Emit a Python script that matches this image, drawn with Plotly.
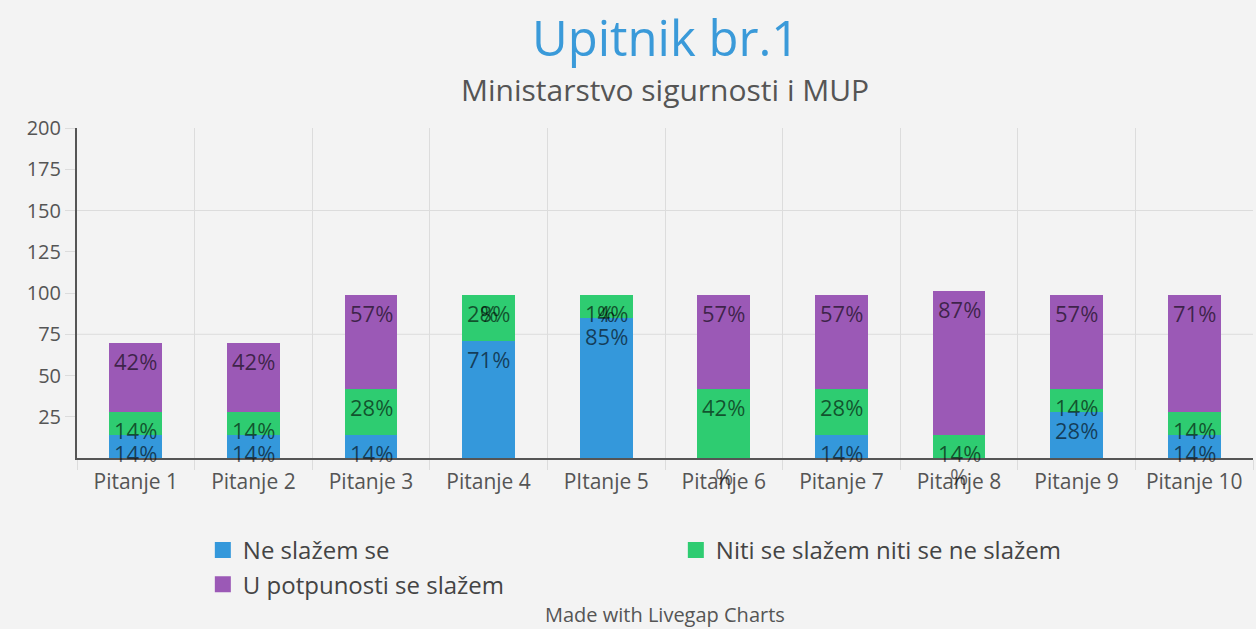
import plotly.graph_objects as go

categories = ["Pitanje 1", "Pitanje 2", "Pitanje 3", "Pitanje 4", "PItanje 5",
              "Pitanje 6", "Pitanje 7", "Pitanje 8", "Pitanje 9", "Pitanje 10"]
ne_slazem = [14, 14, 14, 71, 85, 0, 14, 0, 28, 14]
niti = [14, 14, 28, 28, 14, 42, 28, 14, 14, 14]
potpuno = [42, 42, 57, 0, 0, 57, 57, 87, 57, 71]

series = [
    ("Ne slažem se", ne_slazem, "#3498db"),
    ("Niti se slažem niti se ne slažem", niti, "#2ecc71"),
    ("U potpunosti se slažem", potpuno, "#9b59b6"),
]
y_ticks = [25, 50, 75, 100, 125, 150, 175, 200]

FONT = "Open Sans"
PLOT_TOP, PLOT_BOTTOM = 128, 458
PH = PLOT_BOTTOM - PLOT_TOP


def py(px):
    return (PLOT_BOTTOM - px) / PH


fig = go.Figure()
for name, vals, col in series:
    fig.add_trace(go.Bar(x=categories, y=vals, name=name, marker_color=col,
                         marker_line_width=0, width=0.45, showlegend=False))
    fig.add_trace(go.Scatter(x=[None], y=[None], mode="markers", name=name,
                             marker=dict(symbol="square", size=28, color=col)))

cum = [0] * len(categories)
annotations = []
for name, vals, col in series:
    for i, v in enumerate(vals):
        cum[i] += v
        annotations.append(dict(x=categories[i], y=cum[i], xref="x", yref="y",
                                text=(f"{v}%" if v else "%"), showarrow=False,
                                yanchor="top", yshift=-1,
                                font=dict(family=FONT, size=22, color="rgba(0,0,0,0.6)")))

annotations += [
    dict(text="Upitnik br.1", x=0.5, xref="paper", y=py(37), yref="paper",
         xanchor="center", yanchor="middle", showarrow=False,
         font=dict(family=FONT, size=49, color="#3a9ad9")),
    dict(text="Ministarstvo sigurnosti i MUP", x=0.5, xref="paper", y=py(89), yref="paper",
         xanchor="center", yanchor="middle", showarrow=False,
         font=dict(family=FONT, size=30, color="#555555")),
    dict(text="Made with Livegap Charts", x=0.5, xref="paper", y=py(614), yref="paper",
         xanchor="center", yanchor="middle", showarrow=False,
         font=dict(family=FONT, size=20, color="#555555")),
]

shapes = []
for gv in [75, 150]:
    shapes.append(dict(type="line", xref="paper", x0=0, x1=1, yref="y", y0=gv, y1=gv,
                       line=dict(color="#dcdcdc", width=1), layer="below"))

fig.update_layout(
    barmode="stack",
    width=1256, height=629,
    margin=dict(l=77, r=3, t=PLOT_TOP, b=629 - PLOT_BOTTOM),
    paper_bgcolor="#f3f3f3",
    plot_bgcolor="rgba(0,0,0,0)",
    font=dict(family=FONT, color="#555555"),
    annotations=annotations,
    shapes=shapes,
    legend=dict(orientation="h", x=0.107, xanchor="left", y=py(528), yanchor="top",
                entrywidth=428, entrywidthmode="pixels", traceorder="normal",
                font=dict(family=FONT, size=24, color="#444444"),
                bgcolor="rgba(0,0,0,0)", itemsizing="trace",
                tracegroupgap=0),
    xaxis=dict(showgrid=True, gridcolor="#dcdcdc", tickson="boundaries",
               ticks="outside", ticklen=10, tickcolor="#dcdcdc",
               showline=True, linecolor="#555555", linewidth=2,
               tickfont=dict(family=FONT, size=21, color="#555555"),
               ticklabelstandoff=4,
               range=[-0.5, 9.5], fixedrange=True),
    yaxis=dict(range=[0, 200], tickvals=y_ticks, showgrid=False, zeroline=False,
               ticks="outside", ticklen=10, tickcolor="#dcdcdc",
               showline=True, linecolor="#555555", linewidth=2,
               tickfont=dict(family=FONT, size=20, color="#555555")),
)

fig.write_html("out.html", config={"displayModeBar": False},
               post_script="document.body.style.margin='0';")
